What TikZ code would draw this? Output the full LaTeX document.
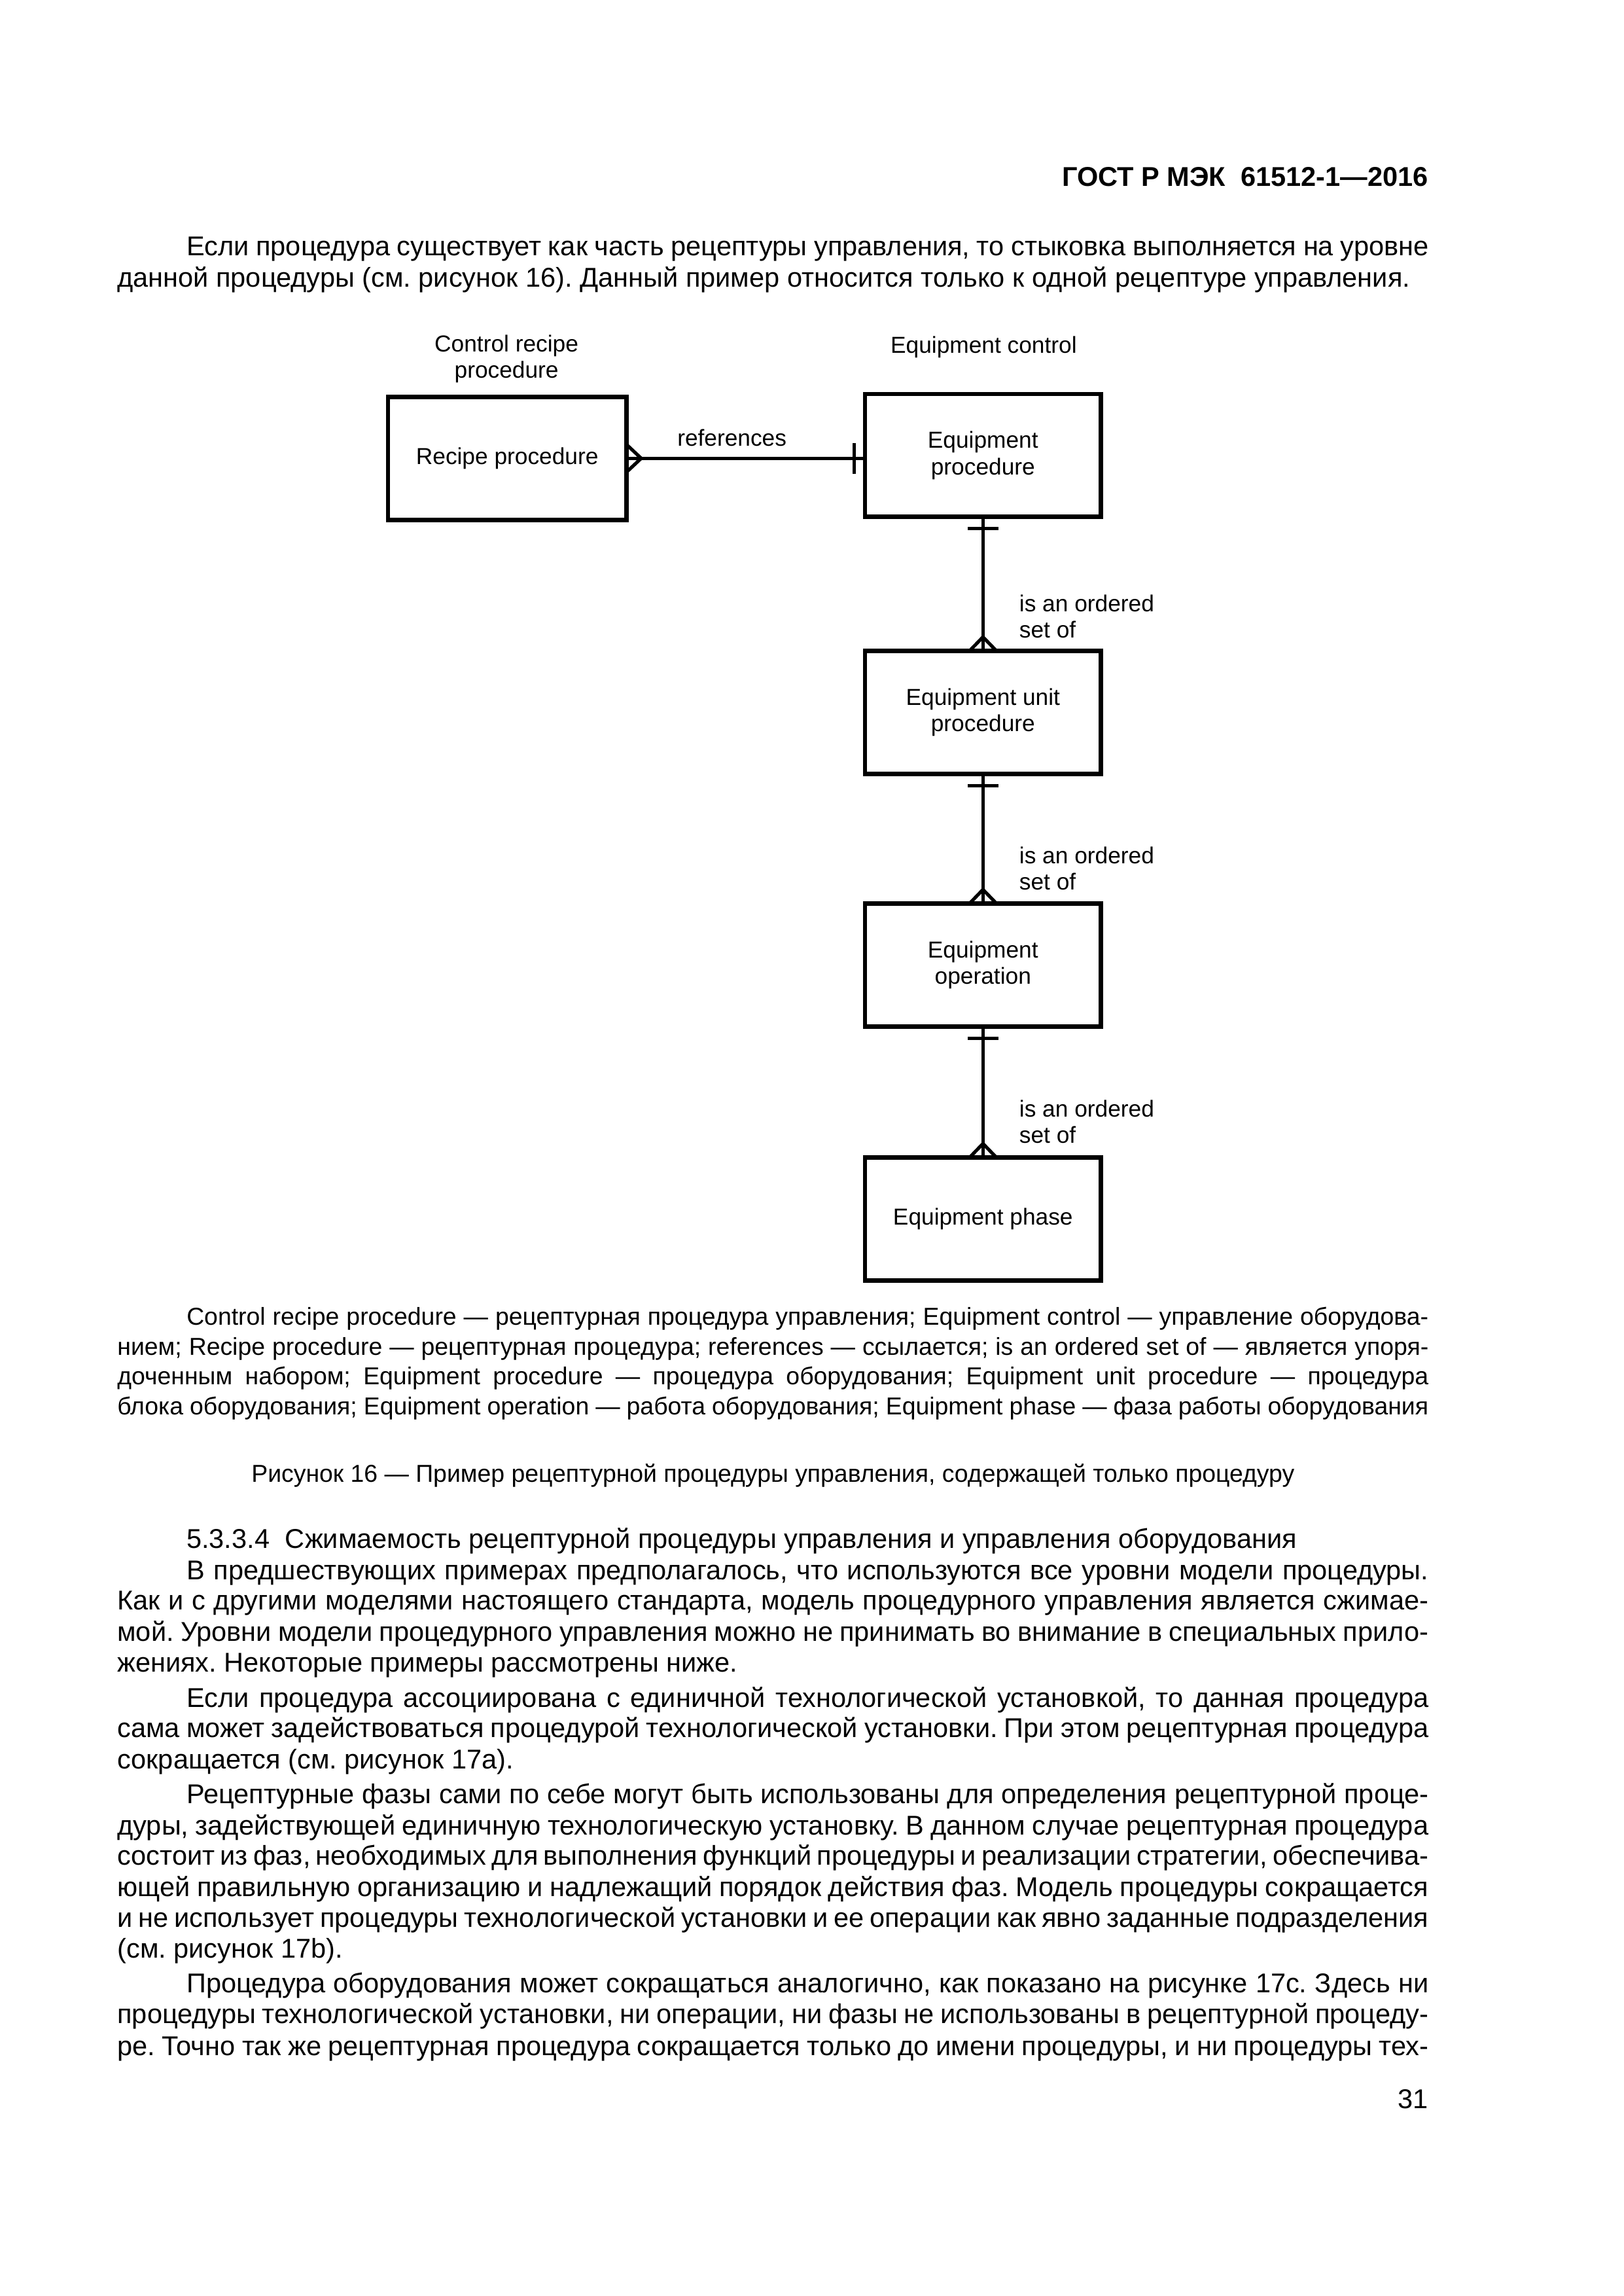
\documentclass[tikz,border=0pt]{standalone}
\usepackage{fontspec}
\setmainfont{Liberation Sans}
\usetikzlibrary{calc}
\frenchspacing
\newlength\fullw \setlength\fullw{169.6mm}
\newlength\indw \setlength\indw{160.65mm}
\newcommand\bodyfont{\fontsize{10}{11.6}\selectfont}
\newcommand\legfont{\fontsize{9}{10.8}\selectfont}
\newcommand\diafont{\fontsize{8.5}{9.7}\selectfont}
\newcommand\jfull[3]{\node[txt] (#1) at (80.2,#2) {\makebox[\fullw][s]{#3}};}
\newcommand\jind[3]{\node[txt] (#1) at (127.5,#2) {\makebox[\indw][s]{#3}};}
\newcommand\lfull[3]{\node[txt] (#1) at (80.2,#2) {#3};}
\newcommand\lind[3]{\node[txt] (#1) at (127.5,#2) {#3};}
\tikzset{
  x=0.189360mm, y=-0.189360mm,
  txt/.style={anchor=base west, inner sep=0pt, outer sep=0pt},
  box/.style={draw, line width=1.6pt, minimum width=30.5mm, minimum height=15.9mm,
    inner sep=0pt, outer sep=0pt, align=center, font=\diafont},
  conn/.style={line width=1.25pt},
  lbl/.style={inner sep=0pt, align=center, font=\diafont},
  rel/.style={anchor=west, inner sep=0pt, align=left, font=\diafont},
}
\newcommand\vrel[2]{%
  \draw[conn] (#1.south) -- (#1.south |- #2.north);
  \draw[conn] ($(#1.south)+(-10.5,8)$) -- ++(21,0);
  \draw[conn] ($(#2.north)+(-9.2,0)$) -- ($(#2.north)+(0,-9.5)$) -- ($(#2.north)+(9.2,0)$);
}
\begin{document}
\begin{tikzpicture}
\useasboundingbox[fill=white] (0,0) rectangle (1109,1568);

% header
\node[anchor=base east, inner sep=0pt, font=\bodyfont\bfseries] (hdr) at (976,127) {ГОСТ Р МЭК~~61512-1—2016};

\begin{scope}[every node/.append style={font=\bodyfont}]
\jind{p1a}{174.5}{Если процедура существует как часть рецептуры управления, то стыковка выполняется на уровне}
\lfull{p1b}{196}{данной процедуры (см. рисунок 16). Данный пример относится только к одной рецептуре управления.}
\end{scope}

% diagram
\node[lbl] (lcr) at (346,245) {Control recipe\\procedure};
\node[lbl] (lec) at (672,237) {Equipment control};
\node[box, minimum width=30.87mm] (rp) at (346.5,313) {Recipe procedure};
\node[box] (ep) at (671.5,311) {Equipment\\procedure};
\node[box] (eup) at (671.5,486.5) {Equipment unit\\procedure};
\node[box] (eo) at (671.5,659) {Equipment\\operation};
\node[box] (eph) at (671.5,832.5) {Equipment phase};
\node[lbl] (lref) at (500,299) {references};
\node[rel] (r1) at (696,421) {is an ordered\\set of};
\node[rel] (r2) at (696,593) {is an ordered\\set of};
\node[rel] (r3) at (696,766) {is an ordered\\set of};

\draw[conn] (rp.east) -- (rp.east -| ep.west);
\draw[conn] ($(rp.east)+(0,-9.4)$) -- ($(rp.east)+(10,0)$) -- ($(rp.east)+(0,9.4)$);
\draw[conn] ($(rp.east -| ep.west)+(-7.5,-10.5)$) -- ++(0,21);
\vrel{ep}{eup}
\vrel{eup}{eo}
\vrel{eo}{eph}

% legend
\begin{scope}[every node/.append style={font=\legfont}]
\jind{lg1}{905}{Control recipe procedure — рецептурная процедура управления; Equipment control — управление оборудова-}
\jfull{lg2}{925.3}{нием; Recipe procedure — рецептурная процедура; references — ссылается; is an ordered set of — является упоря-}
\jfull{lg3}{945.6}{доченным набором; Equipment procedure — процедура оборудования; Equipment unit procedure — процедура}
\jfull{lg4}{966}{блока оборудования; Equipment operation — работа оборудования; Equipment phase — фаза работы оборудования}
\node[anchor=base, inner sep=0pt] (cap) at (528,1012) {Рисунок 16 — Пример рецептурной процедуры управления, содержащей только процедуру};
\end{scope}

% body text
\begin{scope}[every node/.append style={font=\bodyfont}]
\lind{b01}{1057.5}{5.3.3.4~~Сжимаемость рецептурной процедуры управления и управления оборудования}
\jind{b02}{1078.7}{В предшествующих примерах предполагалось, что используются все уровни модели процедуры.}
\jfull{b03}{1099.2}{Как и с другими моделями настоящего стандарта, модель процедурного управления является сжимае-}
\jfull{b04}{1120.7}{мой. Уровни модели процедурного управления можно не принимать во внимание в специальных прило-}
\lfull{b05}{1141.7}{жениях. Некоторые примеры рассмотрены ниже.}
\jind{b06}{1165.8}{Если процедура ассоциирована с единичной технологической установкой, то данная процедура}
\jfull{b07}{1186.5}{сама может задействоваться процедурой технологической установки. При этом рецептурная процедура}
\lfull{b08}{1207.8}{сокращается (см. рисунок 17а).}
\jind{b09}{1231.8}{Рецептурные фазы сами по себе могут быть использованы для определения рецептурной проце-}
\jfull{b10}{1253}{дуры, задействующей единичную технологическую установку. В данном случае рецептурная процедура}
\jfull{b11}{1273.8}{состоит из фаз, необходимых для выполнения функций процедуры и реализации стратегии, обеспечива-}
\jfull{b12}{1295}{ющей правильную организацию и надлежащий порядок действия фаз. Модель процедуры сокращается}
\jfull{b13}{1316}{и не использует процедуры технологической установки и ее операции как явно заданные подразделения}
\lfull{b14}{1337}{(см. рисунок 17b).}
\jind{b15}{1361}{Процедура оборудования может сокращаться аналогично, как показано на рисунке 17с. Здесь ни}
\jfull{b16}{1382}{процедуры технологической установки, ни операции, ни фазы не использованы в рецептурной процеду-}
\jfull{b17}{1403.5}{ре. Точно так же рецептурная процедура сокращается только до имени процедуры, и ни процедуры тех-}
\node[anchor=base east, inner sep=0pt] (pg) at (976,1440) {31};
\end{scope}
\end{tikzpicture}
\end{document}
